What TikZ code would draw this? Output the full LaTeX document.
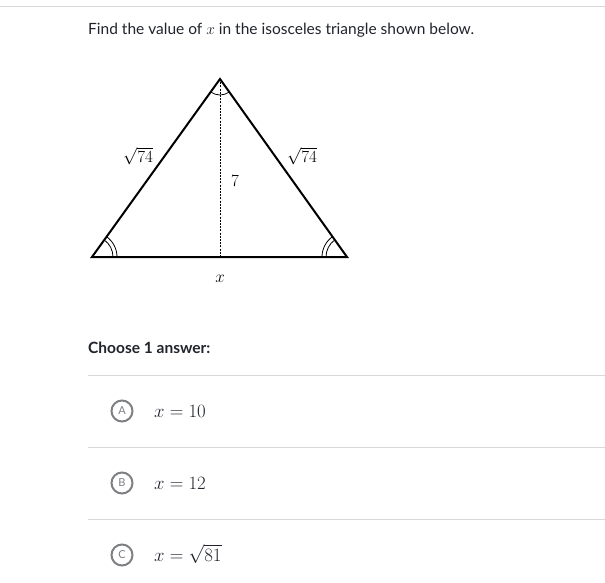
\RequirePackage{fix-cm}
\documentclass[tikz,border=0pt]{standalone}
\usepackage{fontspec}
\setmainfont{Lato}
\usetikzlibrary{angles}
\definecolor{ink}{HTML}{21242C}
\definecolor{rule}{HTML}{D6D8DA}
\definecolor{circ}{HTML}{7E8084}
\tikzset{
  qtext/.style={anchor=base west, inner sep=0pt, text=ink, font=\fontsize{15.5}{18}\selectfont},
  mlabel/.style={inner sep=0pt, text=black, font=\fontsize{17}{20}\selectfont},
  ans/.style={anchor=base west, inner sep=0pt, text=ink, font=\fontsize{18.8}{22}\selectfont},
  choice/.style={circle, draw=circ, line width=2pt, minimum size=21pt, inner sep=0pt, text=circ, font=\fontsize{11}{12}\selectfont},
  sepline/.style={draw=rule, line width=1pt},
  tri/.style={line width=2pt, line join=miter},
  arcmark/.style={draw, line width=0.8pt}
}
\begin{document}
\begin{tikzpicture}[x=1pt,y=-1pt]
\useasboundingbox[fill=white] (0,0) rectangle (605,583);
% top rule
\coordinate (t1) at (0,7); \coordinate (t2) at (605,7);
\draw[sepline] (t1) -- (t2);
\node[qtext] (q) at (88,35) {Find the value of $x$ in the isosceles triangle shown below.};
% triangle
\coordinate (A) at (220,79);
\coordinate (B) at (92,257);
\coordinate (C) at (347,257);
\coordinate (M) at (220,257);
\draw[line width=0.9pt, dash pattern=on 2pt off 1.2pt] (A) -- (M);
\draw[tri] (B) -- (C) -- (A) -- cycle;
\pic[arcmark, angle radius=16pt] {angle=B--A--C};
\pic[arcmark, angle radius=21pt] {angle=C--B--A};
\pic[arcmark, angle radius=25pt] {angle=C--B--A};
\pic[arcmark, angle radius=21pt] {angle=A--C--B};
\pic[arcmark, angle radius=25pt] {angle=A--C--B};
\node[mlabel] (l1) at (138,156) {$\sqrt{74}$};
\node[mlabel] (l2) at (302,156) {$\sqrt{74}$};
\node[mlabel] (h) at (235,181) {$7$};
\node[mlabel] (bx) at (220,279) {$x$};
% choose
\node[qtext, font=\fontsize{15.5}{18}\selectfont\bfseries] (ch) at (88,353) {Choose 1 answer:};
\coordinate (s1a) at (88,375); \coordinate (s1b) at (605,375);
\coordinate (s2a) at (88,447); \coordinate (s2b) at (605,447);
\coordinate (s3a) at (88,519); \coordinate (s3b) at (605,519);
\draw[sepline] (s1a) -- (s1b);
\draw[sepline] (s2a) -- (s2b);
\draw[sepline] (s3a) -- (s3b);
\node[choice] (ca) at (122,411) {A};
\node[choice] (cb) at (122,483) {B};
\node[choice] (cc) at (122,555) {C};
\node[ans] (aa) at (154,417) {$x = 10$};
\node[ans] (ab) at (154,489) {$x = 12$};
\node[ans] (ac) at (154,561) {$x = \sqrt{81}$};
\end{tikzpicture}
\end{document}
